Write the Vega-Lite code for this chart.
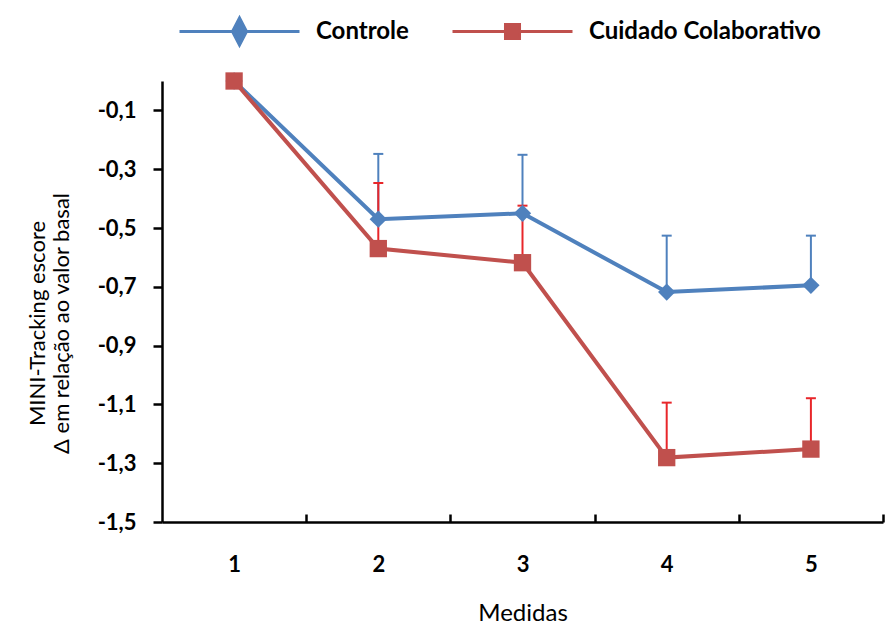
{
  "$schema": "https://vega.github.io/schema/vega-lite/v6.json",
  "width": 721,
  "height": 441,
  "autosize": {"type": "none"},
  "padding": {"left": 162, "top": 81, "right": 2, "bottom": 104},
  "background": "white",
  "config": {
    "view": {"stroke": null},
    "font": "Lato",
    "axis": {"domainColor": "black", "tickColor": "black", "labelColor": "black", "titleColor": "black", "grid": false}
  },
  "data": {
    "values": [
      {"medida": 1, "grupo": "Controle", "valor": 0, "sup": null},
      {"medida": 2, "grupo": "Controle", "valor": -0.47, "sup": -0.248},
      {"medida": 3, "grupo": "Controle", "valor": -0.45, "sup": -0.251},
      {"medida": 4, "grupo": "Controle", "valor": -0.718, "sup": -0.526},
      {"medida": 5, "grupo": "Controle", "valor": -0.695, "sup": -0.526},
      {"medida": 1, "grupo": "Cuidado Colaborativo", "valor": 0, "sup": null},
      {"medida": 2, "grupo": "Cuidado Colaborativo", "valor": -0.57, "sup": -0.347},
      {"medida": 3, "grupo": "Cuidado Colaborativo", "valor": -0.618, "sup": -0.424},
      {"medida": 4, "grupo": "Cuidado Colaborativo", "valor": -1.281, "sup": -1.094},
      {"medida": 5, "grupo": "Cuidado Colaborativo", "valor": -1.252, "sup": -1.079}
    ]
  },
  "encoding": {
    "x": {
      "field": "medida", "type": "quantitative",
      "scale": {"domain": [0.5, 5.5], "nice": false, "zero": false},
      "axis": {
        "orient": "bottom", "values": [1, 1.5, 2, 2.5, 3, 3.5, 4, 4.5, 5, 5.5],
        "labelExpr": "datum.value % 1 == 0 ? format(datum.value, 'd') : ''",
        "tickSize": -8, "tickWidth": 2.5,
        "tickOpacity": {"condition": {"test": "datum.value % 1 == 0", "value": 0}, "value": 1},
        "domainWidth": 2.5, "labelFontSize": 22, "labelFontWeight": "bold", "labelPadding": 40,
        "labelFlush": false, "labelOverlap": false,
        "title": "Medidas", "titleFontSize": 24, "titleFontWeight": "normal", "titlePadding": 26
      }
    },
    "y": {
      "field": "valor", "type": "quantitative",
      "scale": {"domain": [-1.5, 0], "nice": false, "zero": false},
      "axis": {
        "orient": "left", "values": [-0.1, -0.3, -0.5, -0.7, -0.9, -1.1, -1.3, -1.5],
        "labelExpr": "replace(replace(format(datum.value, '.1f'), '.', ','), '\u2212', '-')",
        "tickSize": 9, "tickWidth": 2.5, "domainWidth": 2.5,
        "labelFontSize": 22, "labelFontWeight": "bold", "labelPadding": 17,
        "labelFlush": false, "labelOverlap": false,
        "title": ["MINI-Tracking escore", "Δ em relação ao valor basal"],
        "titleFontSize": 22, "titleFontWeight": "normal", "titleLineHeight": 24,
        "titleX": -118, "titleY": 242, "titleAngle": -90, "titleAlign": "center", "titleBaseline": "alphabetic"
      }
    }
  },
  "layer": [
    {
      "transform": [{"filter": "datum.sup != null"}],
      "mark": {"type": "rule", "strokeWidth": 2},
      "encoding": {
        "y2": {"field": "sup"},
        "color": {"condition": {"test": "datum.grupo == 'Controle'", "value": "#4F81BD"}, "value": "#E8262A"}
      }
    },
    {
      "transform": [{"filter": "datum.sup != null"}],
      "mark": {"type": "tick", "orient": "horizontal", "size": 10, "thickness": 2, "opacity": 1},
      "encoding": {
        "y": {
          "field": "sup", "type": "quantitative",
          "axis": {
            "orient": "left", "values": [-0.1, -0.3, -0.5, -0.7, -0.9, -1.1, -1.3, -1.5],
            "labelExpr": "replace(replace(format(datum.value, '.1f'), '.', ','), '\u2212', '-')",
            "tickSize": 9, "tickWidth": 2.5, "domainWidth": 2.5,
            "labelFontSize": 22, "labelFontWeight": "bold", "labelPadding": 17,
            "labelFlush": false, "labelOverlap": false,
            "title": ["MINI-Tracking escore", "Δ em relação ao valor basal"],
            "titleFontSize": 22, "titleFontWeight": "normal", "titleLineHeight": 24,
            "titleX": -118, "titleY": 242, "titleAngle": -90, "titleAlign": "center", "titleBaseline": "alphabetic"
          }
        },
        "color": {"condition": {"test": "datum.grupo == 'Controle'", "value": "#4F81BD"}, "value": "#E8262A"}
      }
    },
    {
      "mark": {"type": "line", "strokeWidth": 4},
      "encoding": {
        "color": {
          "field": "grupo", "type": "nominal",
          "scale": {"domain": ["Controle", "Cuidado Colaborativo"], "range": ["#4F81BD", "#C0504D"]},
          "legend": {
            "orient": "none", "legendX": 16, "legendY": -111, "direction": "horizontal",
            "title": null, "padding": 0, "symbolSize": 14400, "symbolStrokeWidth": 3,
            "symbolType": "M-1,0H1", "labelFont": "Lato", "labelFontSize": 24, "labelFontWeight": "bold",
            "labelColor": "black", "labelOffset": 15, "columnPadding": 37, "labelLimit": 400,
            "encode": {
              "symbols": {
                "update": {
                  "shape": {"signal": "datum.value == 'Controle' ? 'M-1,0H1M0,-0.225L0.117,0L0,0.225L-0.117,0Z' : 'M-1,0H1M-0.117,-0.117H0.117V0.117H-0.117ZM0,-0.225M0,0.225'"},
                  "fill": {"signal": "datum.value == 'Controle' ? '#4F81BD' : '#C0504D'"},
                  "stroke": {"signal": "datum.value == 'Controle' ? '#4F81BD' : '#C0282D'"},
                  "opacity": {"value": 1},
                  "fillOpacity": {"value": 1}
                }
              }
            }
          }
        }
      }
    },
    {
      "transform": [{"filter": "datum.grupo == 'Controle'"}],
      "mark": {"type": "point", "shape": "diamond", "size": 300, "filled": true, "opacity": 1, "color": "#4F81BD"}
    },
    {
      "transform": [{"filter": "datum.grupo != 'Controle'"}],
      "mark": {"type": "point", "shape": "square", "size": 300, "filled": true, "opacity": 1, "color": "#C0504D"}
    }
  ]
}
